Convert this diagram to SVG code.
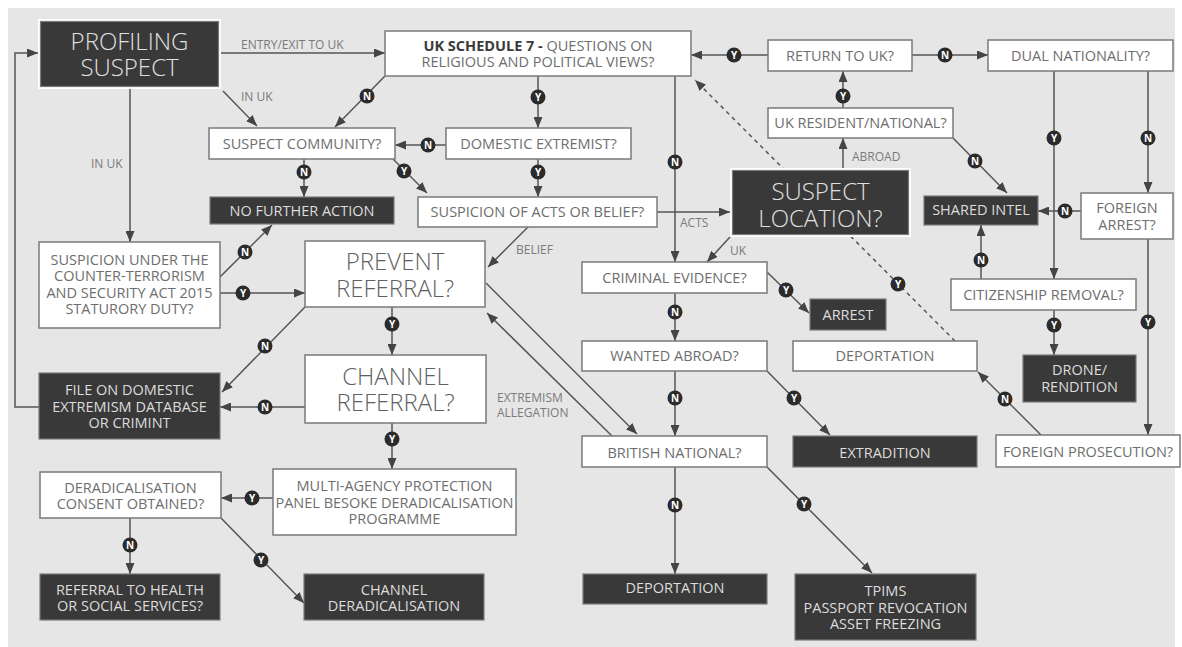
<svg xmlns="http://www.w3.org/2000/svg" width="1182" height="647" viewBox="0 0 1182 647">
<style>
.bg{fill:#e6e6e6}
.w{fill:#fff;stroke:#7a7a7a;stroke-width:1.5}
.d{fill:#393939;stroke:#7a7a7a;stroke-width:1.2}
.dw{fill:#fff}
text{font-family:"Open Sans","Noto Sans","Liberation Sans",sans-serif}
.t{font-size:14.5px;fill:#6e6e6e;text-anchor:middle}
.td{font-size:14.5px;fill:#dcdcdc;text-anchor:middle}
.big{font-size:24px;font-weight:300;fill:#606060;text-anchor:middle}
.bigd{font-size:24px;font-weight:300;fill:#e0e0e0;text-anchor:middle}
.lbl{font-size:12px;fill:#7a7a7a}
.c line,.c polyline{stroke:#555;stroke-width:1.5;fill:none;marker-end:url(#ah)}
.c .dash{stroke-dasharray:4 4}
.b circle{fill:#2b2b2b}
.b text{font-size:10px;font-weight:bold;fill:#fff;text-anchor:middle}
</style>
<defs>
<marker id="ah" markerUnits="userSpaceOnUse" markerWidth="11" markerHeight="9" refX="11" refY="4.5" orient="auto">
<path d="M0,0 L11,4.5 L0,9 z" fill="#444"/>
</marker>
</defs>
<rect class="bg" x="8" y="8" width="1167" height="639"/>

<g id="connectors" class="c">
<line class="dash" x1="955" y1="341" x2="695" y2="80"/>
<line x1="221" y1="53" x2="385" y2="53"/>
<line x1="223" y1="91" x2="257" y2="126"/>
<line x1="130" y1="89" x2="130" y2="242"/>
<line x1="385" y1="76" x2="335" y2="127"/>
<line x1="538" y1="76" x2="538" y2="128"/>
<line x1="446" y1="145" x2="395" y2="145"/>
<line x1="538" y1="159" x2="538" y2="197"/>
<line x1="304" y1="159" x2="304" y2="197"/>
<line x1="393" y1="159" x2="427" y2="193"/>
<line x1="675" y1="76" x2="675" y2="262"/>
<line x1="657" y1="212" x2="730" y2="212"/>
<line x1="528" y1="227" x2="488" y2="267"/>
<line x1="730" y1="237" x2="707" y2="262"/>
<line x1="843" y1="168" x2="843" y2="138"/>
<line x1="843" y1="108" x2="843" y2="71"/>
<line x1="768" y1="55" x2="691" y2="55"/>
<line x1="912" y1="55" x2="988" y2="55"/>
<line x1="953" y1="138" x2="1007" y2="193"/>
<line x1="1054" y1="71" x2="1054" y2="279"/>
<line x1="1148" y1="71" x2="1148" y2="193"/>
<line x1="1081" y1="211" x2="1038" y2="211"/>
<line x1="981" y1="279" x2="981" y2="225"/>
<line x1="1054" y1="310" x2="1054" y2="355"/>
<line x1="1148" y1="239" x2="1148" y2="435"/>
<line x1="1041" y1="435" x2="978" y2="372"/>
<line x1="767" y1="272" x2="809" y2="313"/>
<line x1="675" y1="293" x2="675" y2="341"/>
<line x1="675" y1="371" x2="675" y2="436"/>
<line x1="767" y1="371" x2="830" y2="435"/>
<line x1="486" y1="283" x2="637" y2="434"/>
<line x1="612" y1="436" x2="487" y2="313"/>
<line x1="675" y1="467" x2="675" y2="574"/>
<line x1="767" y1="467" x2="872" y2="573"/>
<line x1="220" y1="277" x2="272" y2="225"/>
<line x1="220" y1="293" x2="305" y2="293"/>
<line x1="305" y1="307" x2="222" y2="392"/>
<line x1="305" y1="407" x2="220" y2="407"/>
<line x1="392" y1="307" x2="392" y2="355"/>
<line x1="392" y1="423" x2="392" y2="469"/>
<line x1="273" y1="498" x2="221" y2="498"/>
<line x1="130" y1="518" x2="130" y2="574"/>
<line x1="221" y1="518" x2="304" y2="603"/>
<polyline points="39,407 15,407 15,53 38,53"/>

<text class="lbl" x="241" y="49">ENTRY/EXIT TO UK</text>
<text class="lbl" x="241" y="101">IN UK</text>
<text class="lbl" x="91" y="168">IN UK</text>
<text class="lbl" x="680" y="227">ACTS</text>
<text class="lbl" x="516" y="254">BELIEF</text>
<text class="lbl" x="730" y="255">UK</text>
<text class="lbl" x="852" y="161">ABROAD</text>
<text class="lbl" x="497" y="402">EXTREMISM<tspan x="497" dy="15">ALLEGATION</tspan></text>

<g class="b">
<circle cx="367" cy="96" r="7.5"/><text x="367" y="99.5">N</text>
<circle cx="538" cy="97" r="7.5"/><text x="538" y="100.5">Y</text>
<circle cx="428" cy="145" r="7.5"/><text x="428" y="148.5">N</text>
<circle cx="538" cy="172" r="7.5"/><text x="538" y="175.5">Y</text>
<circle cx="304" cy="172" r="7.5"/><text x="304" y="175.5">N</text>
<circle cx="404" cy="171" r="7.5"/><text x="404" y="174.5">Y</text>
<circle cx="675" cy="162" r="7.5"/><text x="675" y="165.5">N</text>
<circle cx="843" cy="96" r="7.5"/><text x="843" y="99.5">Y</text>
<circle cx="734" cy="55" r="7.5"/><text x="734" y="58.5">Y</text>
<circle cx="945" cy="55" r="7.5"/><text x="945" y="58.5">N</text>
<circle cx="975" cy="161" r="7.5"/><text x="975" y="164.5">N</text>
<circle cx="1054" cy="138" r="7.5"/><text x="1054" y="141.5">Y</text>
<circle cx="1148" cy="138" r="7.5"/><text x="1148" y="141.5">N</text>
<circle cx="1065" cy="211" r="7.5"/><text x="1065" y="214.5">N</text>
<circle cx="981" cy="260" r="7.5"/><text x="981" y="263.5">N</text>
<circle cx="1054" cy="325" r="7.5"/><text x="1054" y="328.5">Y</text>
<circle cx="1148" cy="322" r="7.5"/><text x="1148" y="325.5">Y</text>
<circle cx="1005" cy="399" r="7.5"/><text x="1005" y="402.5">N</text>
<circle cx="898" cy="284" r="7.5"/><text x="898" y="287.5">Y</text>
<circle cx="786" cy="290" r="7.5"/><text x="786" y="293.5">Y</text>
<circle cx="675" cy="312" r="7.5"/><text x="675" y="315.5">N</text>
<circle cx="675" cy="398" r="7.5"/><text x="675" y="401.5">N</text>
<circle cx="794" cy="398" r="7.5"/><text x="794" y="401.5">Y</text>
<circle cx="675" cy="505" r="7.5"/><text x="675" y="508.5">N</text>
<circle cx="804" cy="504" r="7.5"/><text x="804" y="507.5">Y</text>
<circle cx="245" cy="252" r="7.5"/><text x="245" y="255.5">N</text>
<circle cx="243" cy="293" r="7.5"/><text x="243" y="296.5">Y</text>
<circle cx="265" cy="346" r="7.5"/><text x="265" y="349.5">N</text>
<circle cx="265" cy="407" r="7.5"/><text x="265" y="410.5">N</text>
<circle cx="392" cy="324" r="7.5"/><text x="392" y="327.5">Y</text>
<circle cx="392" cy="439" r="7.5"/><text x="392" y="442.5">Y</text>
<circle cx="252" cy="498" r="7.5"/><text x="252" y="501.5">Y</text>
<circle cx="130" cy="545" r="7.5"/><text x="130" y="548.5">N</text>
<circle cx="261" cy="560" r="7.5"/><text x="261" y="563.5">Y</text>
</g>
</g>

<g id="profiling-suspect">
<rect class="dw" x="38" y="19" width="183" height="70"/>
<rect class="d" x="40.5" y="21.5" width="178" height="65"/>
<text class="bigd" x="129.5" y="50">PROFILING<tspan x="129.5" dy="26">SUSPECT</tspan></text>
</g>
<g id="uk-schedule-7">
<rect class="w" x="385" y="31" width="306" height="45"/>
<text class="t" x="538" y="51"><tspan font-weight="bold" fill="#3a3a3a">UK SCHEDULE 7 -</tspan> QUESTIONS ON<tspan x="538" dy="16">RELIGIOUS AND POLITICAL VIEWS?</tspan></text>
</g>
<g id="return-to-uk">
<rect class="w" x="768" y="40" width="144" height="31"/>
<text class="t" x="840" y="61">RETURN TO UK?</text>
</g>
<g id="dual-nationality">
<rect class="w" x="988" y="40" width="185" height="31"/>
<text class="t" x="1080.5" y="61">DUAL NATIONALITY?</text>
</g>
<g id="uk-resident">
<rect class="w" x="768" y="108" width="185" height="30"/>
<text class="t" x="860.5" y="128">UK RESIDENT/NATIONAL?</text>
</g>
<g id="suspect-location">
<rect class="dw" x="730" y="168" width="181" height="69"/>
<rect class="d" x="732.5" y="170.5" width="176" height="64"/>
<text class="bigd" x="820.5" y="200">SUSPECT<tspan x="820.5" dy="27">LOCATION?</tspan></text>
</g>
<g id="shared-intel">
<rect class="d" x="924" y="196" width="114" height="29"/>
<text class="td" x="981" y="215">SHARED INTEL</text>
</g>
<g id="foreign-arrest">
<rect class="w" x="1081" y="193" width="92" height="46"/>
<text class="t" x="1127" y="213">FOREIGN<tspan x="1127" dy="17">ARREST?</tspan></text>
</g>
<g id="suspect-community">
<rect class="w" x="209" y="128" width="186" height="31"/>
<text class="t" x="302" y="149">SUSPECT COMMUNITY?</text>
</g>
<g id="domestic-extremist">
<rect class="w" x="446" y="128" width="185" height="31"/>
<text class="t" x="538.5" y="149">DOMESTIC EXTREMIST?</text>
</g>
<g id="no-further-action">
<rect class="d" x="210" y="197" width="184" height="27"/>
<text class="td" x="302" y="216">NO FURTHER ACTION</text>
</g>
<g id="suspicion-acts-belief">
<rect class="w" x="418" y="197" width="239" height="30"/>
<text class="t" x="537.5" y="217">SUSPICION OF ACTS OR BELIEF?</text>
</g>
<g id="suspicion-statutory">
<rect class="w" x="39" y="242" width="181" height="86"/>
<text class="t" x="129.5" y="265">SUSPICION UNDER THE<tspan x="129.5" dy="16.3">COUNTER-TERRORISM</tspan><tspan x="129.5" dy="16.3">AND SECURITY ACT 2015</tspan><tspan x="129.5" dy="16.3">STATURORY DUTY?</tspan></text>
</g>
<g id="prevent-referral">
<rect class="w" x="305" y="241" width="180" height="66"/>
<text class="big" x="395" y="270">PREVENT<tspan x="395" dy="27">REFERRAL?</tspan></text>
</g>
<g id="channel-referral">
<rect class="w" x="305" y="355" width="181" height="68"/>
<text class="big" x="395.5" y="385">CHANNEL<tspan x="395.5" dy="26">REFERRAL?</tspan></text>
</g>
<g id="file-domestic">
<rect class="d" x="39" y="373" width="181" height="66"/>
<text class="td" x="129.5" y="395">FILE ON DOMESTIC<tspan x="129.5" dy="16.5">EXTREMISM DATABASE</tspan><tspan x="129.5" dy="16.5">OR CRIMINT</tspan></text>
</g>
<g id="multi-agency">
<rect class="w" x="273" y="469" width="243" height="66"/>
<text class="t" x="394.5" y="491">MULTI-AGENCY PROTECTION<tspan x="394.5" dy="16.5">PANEL BESOKE DERADICALISATION</tspan><tspan x="394.5" dy="16.5">PROGRAMME</tspan></text>
</g>
<g id="consent">
<rect class="w" x="40" y="472" width="181" height="46"/>
<text class="t" x="130.5" y="493">DERADICALISATION<tspan x="130.5" dy="16">CONSENT OBTAINED?</tspan></text>
</g>
<g id="referral-health">
<rect class="d" x="40" y="574" width="180" height="46"/>
<text class="td" x="130" y="595">REFERRAL TO HEALTH<tspan x="130" dy="16">OR SOCIAL SERVICES?</tspan></text>
</g>
<g id="channel-deradicalisation">
<rect class="d" x="304" y="574" width="180" height="46"/>
<text class="td" x="394" y="595">CHANNEL<tspan x="394" dy="16">DERADICALISATION</tspan></text>
</g>
<g id="criminal-evidence">
<rect class="w" x="582" y="262" width="185" height="31"/>
<text class="t" x="674.5" y="283">CRIMINAL EVIDENCE?</text>
</g>
<g id="arrest">
<rect class="d" x="810" y="299" width="76" height="31"/>
<text class="td" x="848" y="320">ARREST</text>
</g>
<g id="wanted-abroad">
<rect class="w" x="582" y="341" width="185" height="30"/>
<text class="t" x="674.5" y="361">WANTED ABROAD?</text>
</g>
<g id="deportation-mid">
<rect class="w" x="793" y="341" width="184" height="30"/>
<text class="t" x="885" y="361">DEPORTATION</text>
</g>
<g id="british-national">
<rect class="w" x="582" y="436" width="185" height="31"/>
<text class="t" x="674.5" y="458">BRITISH NATIONAL?</text>
</g>
<g id="extradition">
<rect class="d" x="793" y="436" width="184" height="31"/>
<text class="td" x="885" y="458">EXTRADITION</text>
</g>
<g id="deportation-bottom">
<rect class="d" x="583" y="574" width="184" height="30"/>
<text class="td" x="675" y="593">DEPORTATION</text>
</g>
<g id="tpims">
<rect class="d" x="795" y="574" width="181" height="66"/>
<text class="td" x="885.5" y="596">TPIMS<tspan x="885.5" dy="16.5">PASSPORT REVOCATION</tspan><tspan x="885.5" dy="16">ASSET FREEZING</tspan></text>
</g>
<g id="foreign-prosecution">
<rect class="w" x="996" y="435" width="184" height="32"/>
<text class="t" x="1088" y="457">FOREIGN PROSECUTION?</text>
</g>
<g id="citizenship-removal">
<rect class="w" x="951" y="279" width="185" height="31"/>
<text class="t" x="1043.5" y="300">CITIZENSHIP REMOVAL?</text>
</g>
<g id="drone-rendition">
<rect class="d" x="1023" y="355" width="113" height="47"/>
<text class="td" x="1079.5" y="375">DRONE/<tspan x="1079.5" dy="17">RENDITION</tspan></text>
</g>
</svg>
